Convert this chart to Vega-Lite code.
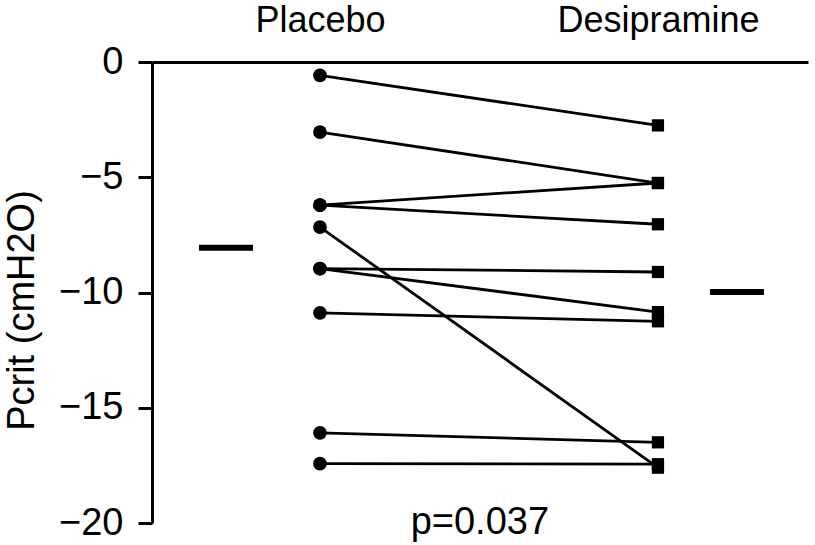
{
  "$schema": "https://vega.github.io/schema/vega-lite/v6.json",
  "width": 656,
  "height": 461,
  "autosize": {"type": "none"},
  "padding": {"left": 152, "top": 62, "right": 7, "bottom": 22},
  "config": {
    "view": {"stroke": null},
    "font": "Liberation Sans",
    "axis": {"grid": false, "domainColor": "black", "tickColor": "black", "labelColor": "black", "titleColor": "black", "labelFont": "Liberation Sans", "titleFont": "Liberation Sans"}
  },
  "data": {
    "values": [
      {"id": 1, "cond": 1, "pcrit": -0.58}, {"id": 1, "cond": 2, "pcrit": -2.75},
      {"id": 2, "cond": 1, "pcrit": -3.04}, {"id": 2, "cond": 2, "pcrit": -5.25},
      {"id": 3, "cond": 1, "pcrit": -6.21}, {"id": 3, "cond": 2, "pcrit": -5.25},
      {"id": 4, "cond": 1, "pcrit": -6.21}, {"id": 4, "cond": 2, "pcrit": -7.04},
      {"id": 5, "cond": 1, "pcrit": -7.16}, {"id": 5, "cond": 2, "pcrit": -17.6},
      {"id": 6, "cond": 1, "pcrit": -8.96}, {"id": 6, "cond": 2, "pcrit": -9.11},
      {"id": 7, "cond": 1, "pcrit": -8.96}, {"id": 7, "cond": 2, "pcrit": -10.85},
      {"id": 8, "cond": 1, "pcrit": -10.88}, {"id": 8, "cond": 2, "pcrit": -11.25},
      {"id": 9, "cond": 1, "pcrit": -16.09}, {"id": 9, "cond": 2, "pcrit": -16.5},
      {"id": 10, "cond": 1, "pcrit": -17.42}, {"id": 10, "cond": 2, "pcrit": -17.45}
    ]
  },
  "layer": [
    {
      "mark": {"type": "line", "color": "black", "strokeWidth": 2.8},
      "encoding": {
        "x": {
          "field": "cond", "type": "quantitative",
          "scale": {"domain": [0.503, 2.444], "nice": false, "zero": false},
          "axis": {"orient": "top", "values": [1, 2], "labelExpr": "datum.value == 1 ? 'Placebo' : 'Desipramine'", "ticks": false, "tickSize": 0, "labelFontSize": 36, "labelBaseline": "alphabetic", "labelPadding": 31, "domainWidth": 3, "title": null, "labelFlush": false, "labelOverlap": false, "labelLimit": 0}
        },
        "y": {
          "field": "pcrit", "type": "quantitative",
          "scale": {"domain": [-20, 0], "nice": false},
          "axis": {"values": [0, -5, -10, -15, -20], "tickSize": 14, "tickWidth": 3, "domainWidth": 3, "labelFontSize": 38, "labelPadding": 15, "title": "Pcrit (cmH2O)", "titleFontSize": 38, "titleFontWeight": "normal", "titleAngle": -90, "titleBaseline": "bottom", "titleX": -111, "titleY": 248, "titleLimit": 0, "labelFlush": false}
        },
        "detail": {"field": "id"}
      }
    },
    {"transform": [{"filter": "datum.cond == 1"}], "mark": {"type": "point", "shape": "circle", "filled": true, "color": "black", "size": 190, "opacity": 1}, "encoding": {"x": {"field": "cond", "type": "quantitative"}, "y": {"field": "pcrit", "type": "quantitative"}}},
    {"transform": [{"filter": "datum.cond == 2"}], "mark": {"type": "point", "shape": "square", "filled": true, "color": "black", "size": 150, "opacity": 1}, "encoding": {"x": {"field": "cond", "type": "quantitative"}, "y": {"field": "pcrit", "type": "quantitative"}}},
    {"transform": [{"filter": "datum.cond == 1"}], "mark": {"type": "tick", "orient": "horizontal", "size": 54, "thickness": 6, "xOffset": -94, "color": "black", "opacity": 1}, "encoding": {"x": {"field": "cond", "type": "quantitative"}, "y": {"aggregate": "median", "field": "pcrit", "type": "quantitative"}}},
    {"transform": [{"filter": "datum.cond == 2"}], "mark": {"type": "tick", "orient": "horizontal", "size": 54, "thickness": 6, "xOffset": 79, "color": "black", "opacity": 1}, "encoding": {"x": {"field": "cond", "type": "quantitative"}, "y": {"aggregate": "median", "field": "pcrit", "type": "quantitative"}}},
    {"data": {"values": [{"label": "p=0.037"}]}, "mark": {"type": "text", "fontSize": 38, "baseline": "alphabetic", "align": "center", "dy": 11, "color": "black", "font": "Liberation Sans"}, "encoding": {"x": {"datum": 1.473, "type": "quantitative"}, "y": {"datum": -20, "type": "quantitative"}, "text": {"field": "label", "type": "nominal"}}}
  ]
}
